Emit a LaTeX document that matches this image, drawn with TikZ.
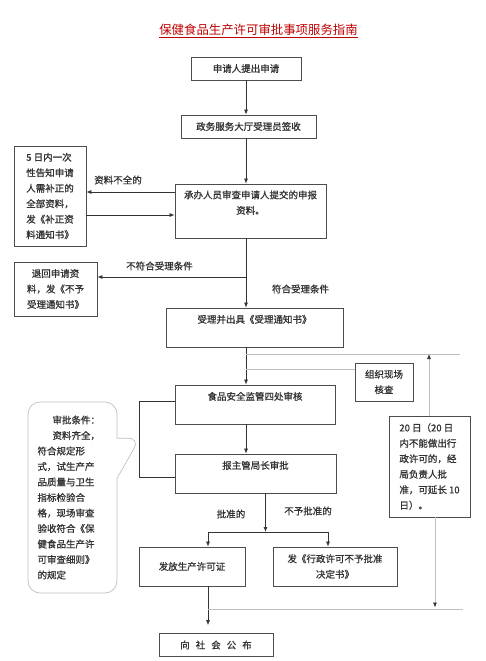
\documentclass[tikz,border=0pt]{standalone}
\usepackage{fontspec}
\setmainfont{Noto Sans CJK SC}[FakeBold=1]
\newfontfamily\titlefont{Noto Sans CJK SC}
\usetikzlibrary{positioning,arrows.meta,shapes.callouts}

\begin{document}
\begin{tikzpicture}[
            x=1pt, y=-1pt,
            color=black!80, line width=0.7pt,
            >={Latex[length=5pt,width=4pt]},
            every node/.style={font=\fontsize{9.5}{15.5}\selectfont},
            box/.style={rectangle, draw=black!70, line width=0.8pt, inner sep=4pt, align=center},
            topbox/.style={box, text height=11pt, text depth=#1},
            guide/.style={draw=black!25},
            guidearrow/.style={draw=black!25, -{Latex[length=5pt,width=4pt,color=black!80]}},
            heading/.style={text=red!75!black, font=\titlefont\fontsize{12.4}{14}\selectfont},
        ]
        \useasboundingbox (0,0) rectangle (486,661);

        %Nodes
        \node[heading]                                          (title)      at (258.5,31)   {\underline{保健食品生产许可审批事项服务指南}};
        \node[box, minimum width=110pt, minimum height=23pt]    (apply)      at (246,68.5)   {申请人提出申请};
        \node[box, minimum width=135pt, minimum height=23pt]    (sign)       at (248.5,126.5) {政务服务大厅受理员签收};
        \node[topbox=20pt, text height=26pt, minimum width=151pt] (review)   at (250.5,211)  {承办人员审查申请人提交的申报\\资料。};
        \node[box, align=left, minimum width=72pt, minimum height=100pt] (supplement) at (50,196) {5 日内一次\\性告知申请\\人需补正的\\全部资料，\\发《补正资\\料通知书》};
        \node[box, minimum width=83pt, minimum height=54pt]     (reject)     at (55.5,289)   {退回申请资\\料，发《不予\\受理通知书》};
        \node[topbox=20pt, minimum width=177pt]                 (accept)     at (254.5,327.5) {受理并出具《受理通知书》};
        \node[box, minimum width=58pt, minimum height=38pt]     (inspect)    at (384,382)    {组织现场\\核查};
        \node[topbox=20pt, minimum width=160pt]                 (audit)      at (255,404.5)  {食品安全监管四处审核};
        \node[topbox=20pt, minimum width=161pt]                 (approve)    at (255.5,473.5) {报主管局长审批};
        \node[box, align=left, minimum width=81pt, minimum height=101pt] (limit) at (429.5,466.5) {20 日（20 日\\内不能做出行\\政许可的，经\\局负责人批\\准，可延长 10\\日）。};
        \node[box, minimum width=106pt, minimum height=39pt]    (licence)    at (192,566.5)  {发放生产许可证};
        \node[box, minimum width=124pt, minimum height=39pt]    (refuse)     at (335,566.5)  {发《行政许可不予批准\\决定书》};
        \node[box, minimum width=114pt, minimum height=23pt]    (announce)   at (216,645)    {向\hspace{6pt}社\hspace{6pt}会\hspace{6pt}公\hspace{6pt}布};
        \node[rectangle callout, callout absolute pointer={(140,438)}, callout pointer width=40pt,
              draw=black!25, rounded corners=12pt, minimum width=89pt, minimum height=191pt,
              text width=70pt, inner xsep=9.5pt, align=left] (terms) at (72.5,497.5)
              {\hspace*{15pt}审批条件：\\\hspace*{15pt}资料齐全，\\符合规定形\\式，试生产产\\品质量与卫生\\指标检验合\\格，现场审查\\验收符合《保\\健食品生产许\\可审查细则》\\的规定};

        %Labels
        \node (incomplete) at (118,180)   {资料不全的};
        \node (unfit)      at (159.5,266) {不符合受理条件};
        \node (fit)        at (300.5,289) {符合受理条件};
        \node (granted)    at (231,514)   {批准的};
        \node (denied)     at (308,511)   {不予批准的};

        %Lines
        \coordinate (rimA)  at (460,354);
        \coordinate (rimB)  at (463,609);
        \coordinate (split) at (265.5,532);
        \draw[->] (apply.south) -- (sign.north -| apply.south);
        \draw[->] (sign.south -| apply.south) -- (review.north -| apply.south);
        \draw[->] (review.west |- 0,192) -- (supplement.east |- 0,192);
        \draw[->] (supplement.east |- 0,215) -- (review.west |- 0,215);
        \draw[->] (review.south -| apply.south) -- (accept.north -| apply.south);
        \draw[->] (apply.south |- 0,277) -- (reject.east |- 0,277);
        \draw[->] (accept.south -| apply.south) -- (audit.north -| apply.south);
        \draw[guide] (apply.south |- rimA) -- (rimA);
        \draw[guide] (apply.south |- 0,369) -- (inspect.west |- 0,369);
        \draw[->] (audit.south -| apply.south) -- (approve.north -| apply.south);
        \draw ([yshift=3.5pt]audit.west) -- ++(-35,0) |- ([yshift=-3.5pt]approve.west);
        \draw[->] (approve.south -| split) -- (split);
        \draw[->] (split) -| ([xshift=16pt]licence.north);
        \draw[->] (split) -| ([xshift=-7pt]refuse.north);
        \draw[->, shorten >=8pt] ([xshift=16pt]licence.south) -- ([xshift=16pt]licence.south |- announce.north);
        \draw[guide] ([xshift=16pt]licence.south |- rimB) -- (rimB);
        \draw[guidearrow] ([xshift=-0.5pt]limit.north) -- ([xshift=-0.5pt]limit.north |- rimA);
        \draw[guidearrow, shorten >=1.5pt] ([xshift=5.5pt]limit.south) -- ([xshift=5.5pt]limit.south |- rimB);
    \end{tikzpicture}
\end{document}
